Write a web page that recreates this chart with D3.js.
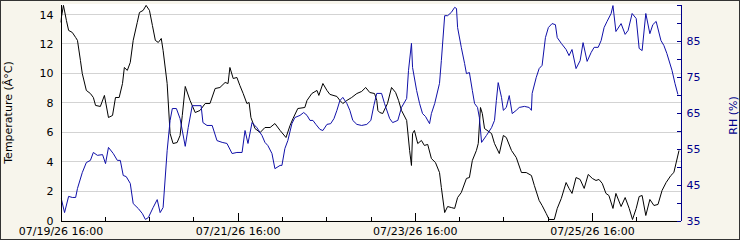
<!DOCTYPE html>
<html>
<head>
<meta charset="utf-8">
<script src="https://cdn.jsdelivr.net/npm/d3@7"></script>
<style>
  html, body { margin: 0; padding: 0; background: #fff; }
  svg { display: block; font-family: "DejaVu Sans", Verdana, sans-serif; }
</style>
</head>
<body>
<div id="chart"></div>
<script>
// Series data: hours since start, then the value read at that time
const startTime = '07/19/26 16:00';
const spanHours = 168;

const tempHours = [0, 0.8, 1.6, 2.2, 3.2, 4.1, 4.6, 5.4, 5.9, 7.0, 8.1, 8.9, 9.5, 10.8, 11.9, 13.0, 14.1, 14.9, 15.9, 16.8,
  17.3, 18.1, 18.9, 19.7, 20.8, 21.4, 22.4, 23.2, 24.1, 24.9, 25.7, 26.5, 27.3, 27.8, 28.9, 29.7, 30.5, 31.6, 32.4, 33.0,
  33.8, 35.1, 36.5, 37.8, 39.2, 40.5, 41.9, 43.2, 44.6, 45.4, 45.9, 46.8, 47.8, 48.6, 49.5, 50.5, 51.1, 51.6, 52.7, 54.1,
  55.4, 56.8, 58.1, 59.5, 61.1, 62.2, 63.0, 64.3, 66.2, 66.8, 68.1, 69.5, 70.0, 71.1, 72.2, 73.0, 74.9, 75.7, 76.5, 77.6,
  78.9, 80.3, 81.6, 82.7, 83.8, 85.1, 85.7, 86.0, 86.5, 87.3, 88.6, 89.7, 90.8, 91.6, 92.4, 93.8, 94.6, 95.1, 95.4, 95.9,
  96.8, 97.8, 98.6, 99.5, 100.5, 101.6, 102.7, 103.2, 104.1, 104.9, 105.9, 106.8, 107.6, 108.6, 110.0, 110.8, 111.6, 112.7, 113.2, 113.8,
  114.3, 114.9, 116.8, 117.6, 118.9, 120.0, 120.8, 122.2, 123.5, 124.9, 126.2, 127.6, 128.4, 129.7, 130.5, 131.6, 132.4, 133.8, 134.6, 135.7,
  137.0, 137.8, 138.6, 139.7, 140.8, 141.9, 143.0, 144.1, 145.1, 145.9, 146.8, 147.8, 148.6, 149.7, 150.5, 151.9, 153.0, 154.1, 155.0, 156.0,
  156.8, 157.6, 158.6, 159.7, 160.8, 161.9, 163.0, 164.1, 165.4, 166.2, 167.6];
const tempValues = [13.46, 14.62, 13.6, 12.92, 12.78, 12.44, 12.24, 10.88, 9.99, 8.84, 8.63, 8.36, 7.82, 7.75, 8.5, 7.0, 7.14, 8.36, 8.36, 9.31,
  10.4, 10.2, 10.74, 12.24, 13.46, 14.14, 14.28, 14.62, 14.28, 13.26, 12.24, 12.1, 12.37, 11.56, 9.31, 5.91, 5.23, 5.3, 5.78, 7.14,
  9.11, 8.16, 7.34, 7.48, 7.95, 7.95, 8.97, 9.04, 9.38, 9.31, 10.4, 9.65, 9.72, 9.18, 8.63, 7.95, 8.02, 7.0, 6.25, 5.98,
  6.32, 6.32, 6.59, 6.12, 5.64, 6.46, 6.93, 7.61, 7.68, 8.16, 8.63, 8.84, 8.5, 9.31, 8.84, 8.57, 8.43, 8.16, 7.95, 8.16,
  8.36, 8.63, 8.77, 9.04, 8.7, 8.63, 8.16, 7.48, 7.34, 7.27, 7.95, 9.04, 8.7, 8.16, 7.48, 6.8, 4.76, 3.74, 5.91, 6.12,
  5.23, 5.44, 5.1, 5.17, 4.21, 3.94, 3.26, 2.24, 0.54, 0.95, 0.88, 0.82, 1.56, 1.9, 2.86, 2.92, 4.08, 4.76, 5.23, 7.68,
  7.27, 6.25, 5.91, 5.23, 4.55, 5.78, 5.64, 4.76, 4.28, 3.26, 3.26, 3.06, 2.38, 1.36, 1.02, 0.48, 0.07, 0.07, 0.82, 1.5,
  2.58, 2.18, 1.84, 2.92, 2.79, 2.18, 3.13, 2.86, 2.72, 2.79, 2.52, 1.84, 1.7, 0.82, 1.84, 0.95, 1.56, 0.82, 0.07, 0.82,
  1.63, 1.7, 0.34, 1.43, 1.02, 1.09, 2.04, 2.58, 3.06, 3.26, 4.76];

const rhHours = [0.2, 1.1, 2.2, 3.2, 4.1, 4.6, 5.9, 7.0, 8.1, 8.9, 10.0, 11.4, 12.2, 13.0, 14.3, 15.4, 16.2, 17.0, 17.8, 18.9,
  19.7, 21.1, 22.2, 23.0, 23.8, 25.1, 26.2, 27.0, 27.8, 28.9, 29.7, 30.3, 31.4, 32.4, 33.8, 34.6, 35.7, 38.1, 38.6, 39.7,
  41.1, 42.4, 43.8, 45.1, 46.5, 47.8, 49.2, 50.0, 50.8, 51.9, 53.2, 54.6, 55.4, 56.2, 57.3, 58.1, 59.5, 60.0, 60.8, 61.6,
  62.7, 63.5, 64.9, 65.9, 66.8, 67.6, 68.4, 69.2, 70.3, 71.1, 72.2, 73.2, 74.1, 74.9, 75.7, 76.5, 77.6, 78.4, 79.2, 80.3,
  81.6, 83.0, 84.1, 84.9, 85.7, 87.0, 87.8, 89.2, 90.0, 91.4, 92.4, 93.8, 94.3, 95.1, 95.4, 96.5, 97.3, 98.1, 98.9, 100.0,
  100.5, 101.4, 102.7, 103.2, 104.1, 104.9, 105.9, 106.8, 107.3, 107.6, 108.6, 109.5, 110.0, 110.8, 111.6, 112.2, 113.0, 113.5, 114.1, 115.4,
  116.8, 117.6, 118.1, 118.6, 119.5, 120.0, 120.8, 121.6, 122.4, 123.5, 124.3, 125.7, 127.0, 127.6, 127.8, 128.9, 129.7, 130.5, 131.4, 132.2,
  133.2, 134.1, 134.6, 135.7, 137.0, 137.8, 138.6, 139.7, 140.8, 141.6, 142.7, 143.8, 144.6, 145.7, 146.5, 147.3, 148.1, 149.2, 149.7, 150.5,
  151.9, 153.0, 153.8, 154.9, 156.0, 156.8, 157.6, 158.6, 159.7, 160.5, 161.4, 162.7, 163.5, 164.3, 165.7, 166.5, 167.3];
const rhValues = [41.1, 37.2, 41.7, 41.4, 41.4, 43.9, 48.3, 51.1, 51.7, 53.9, 53.1, 53.3, 50.8, 55.3, 53.6, 51.7, 51.7, 47.5, 47.2, 45.3,
  39.7, 38.3, 36.9, 35.3, 35.8, 38.6, 40.8, 37.2, 38.6, 54.4, 62.8, 66.1, 66.1, 63.3, 55.6, 60.8, 66.9, 66.9, 62.2, 61.4,
  61.4, 57.2, 56.7, 56.4, 53.6, 53.9, 53.9, 60.0, 56.4, 62.2, 60.8, 58.6, 56.7, 55.8, 53.6, 49.4, 50.3, 50.3, 55.0, 57.2,
  61.9, 63.6, 64.2, 65.0, 64.2, 62.8, 62.8, 61.7, 60.3, 60.0, 61.7, 61.9, 63.3, 65.6, 68.3, 69.2, 67.5, 65.6, 62.8, 61.7,
  61.4, 61.7, 62.8, 66.9, 70.3, 70.3, 67.5, 63.3, 62.2, 62.8, 66.4, 68.9, 76.7, 84.2, 77.5, 71.1, 67.5, 64.7, 63.9, 61.9,
  64.7, 67.5, 73.1, 79.4, 91.9, 91.9, 92.8, 94.2, 93.9, 88.6, 83.1, 78.6, 75.8, 76.1, 71.1, 67.5, 66.4, 63.6, 56.7, 58.6,
  60.8, 62.8, 68.3, 73.3, 69.2, 65.6, 66.4, 69.7, 64.7, 65.6, 66.4, 66.7, 66.4, 65.6, 70.3, 74.7, 77.2, 78.1, 85.8, 88.6,
  89.7, 89.4, 85.8, 84.2, 82.5, 80.8, 82.5, 77.2, 79.4, 84.4, 79.2, 81.7, 83.1, 83.1, 85.0, 88.6, 90.3, 92.5, 94.7, 87.5,
  89.7, 86.7, 87.8, 92.5, 91.1, 82.8, 82.2, 92.5, 86.9, 89.4, 90.3, 85.0, 83.6, 81.4, 76.7, 73.1, 70.0];

// Axis ticks and labels
const xLabels = ['07/19/26 16:00', '07/21/26 16:00', '07/23/26 16:00', '07/25/26 16:00'];
const xMinorStep = 12;
const tempTicks = [0, 2, 4, 6, 8, 10, 12, 14];
const tempDomain = [0, 14.68];
const rhTicks = [35, 40, 45, 50, 55, 60, 65, 70, 75, 80, 85, 90, 95];
const rhLabels = [35, 45, 55, 65, 75, 85];
const rhDomain = [35, 95];

const width = 740, height = 240;
const plotL = 60.5, plotR = 680.5, plotT = 4.5, plotB = 220.5;
const fontSize = 11;
const navy = '#00008b';
const blueLine = '#1010a8';

const parse = d3.timeParse('%m/%d/%y %H:%M');
const fmt = d3.timeFormat('%m/%d/%y %H:%M');
const t0 = parse(startTime);
const t1 = d3.timeHour.offset(t0, spanHours);

const x = d3.scaleTime().domain([t0, t1]).range([plotL, plotR]);
const yT = d3.scaleLinear().domain(tempDomain).range([plotB, plotT]);
const yR = d3.scaleLinear().domain(rhDomain).range([plotB, plotT]);

const tempData = tempHours.map((h, i) => ({ t: d3.timeMinute.offset(t0, Math.round(h * 60)), v: tempValues[i] }));
const rhData = rhHours.map((h, i) => ({ t: d3.timeMinute.offset(t0, Math.round(h * 60)), v: rhValues[i] }));

const svg = d3.select('#chart').append('svg')
  .attr('width', width).attr('height', height);

// page background and frame
svg.append('rect').attr('x', 0.5).attr('y', 0.5).attr('width', width - 1).attr('height', height - 1)
  .attr('fill', '#f7f5ec').attr('stroke', '#333');

svg.append('rect')
  .attr('x', plotL).attr('y', plotT - 0.5)
  .attr('width', plotR - plotL).attr('height', plotB - plotT + 0.5)
  .attr('fill', '#fff');

svg.append('defs').append('clipPath').attr('id', 'clip')
  .append('rect').attr('x', plotL).attr('y', plotT - 1).attr('width', plotR - plotL).attr('height', plotB - plotT + 1.5);

// horizontal grid at temperature ticks
svg.append('g').attr('class', 'grid')
  .selectAll('line')
  .data(tempTicks.filter(d => d > 0))
  .join('line')
  .attr('x1', plotL).attr('x2', plotR)
  .attr('y1', d => Math.round(yT(d) - 0.5) + 0.5)
  .attr('y2', d => Math.round(yT(d) - 0.5) + 0.5)
  .attr('stroke', '#d3d3d3')
  .attr('shape-rendering', 'crispEdges');

// series
const line = d3.line().x(d => x(d.t));
const lines = svg.append('g').attr('clip-path', 'url(#clip)');
lines.append('path')
  .datum(tempData)
  .attr('fill', 'none')
  .attr('stroke', '#000')
  .attr('stroke-width', 1)
  .attr('d', line.y(d => yT(d.v)));
lines.append('path')
  .datum(rhData)
  .attr('fill', 'none')
  .attr('stroke', blueLine)
  .attr('stroke-width', 1)
  .attr('d', line.y(d => yR(d.v)));

function styleAxis(g, color) {
  g.attr('font-family', '"DejaVu Sans", Verdana, sans-serif').attr('font-size', fontSize);
  g.selectAll('path, line').attr('stroke', color).attr('shape-rendering', 'crispEdges');
  g.selectAll('text').attr('fill', color);
}

// x axis: minor ticks every 12 h, tall labelled ticks every 48 h
const minorTicks = d3.range(0, spanHours + 1, xMinorStep).map(h => d3.timeHour.offset(t0, h));
svg.append('g')
  .attr('transform', `translate(0,${plotB})`)
  .call(d3.axisBottom(x).tickValues(minorTicks).tickSize(-4).tickSizeOuter(0).tickFormat(''))
  .call(g => styleAxis(g, '#000'));
svg.append('g')
  .attr('transform', `translate(0,${plotB})`)
  .call(d3.axisBottom(x).tickValues(xLabels.map(parse)).tickSize(-8).tickSizeOuter(0).tickPadding(7).tickFormat(fmt))
  .call(g => styleAxis(g, '#000'))
  .call(g => g.select('.domain').remove());

// left temperature axis
svg.append('g')
  .attr('transform', `translate(${plotL},0)`)
  .call(d3.axisLeft(yT).tickValues(tempTicks).tickSize(0).tickSizeOuter(0).tickPadding(7))
  .call(g => styleAxis(g, '#000'));

// right RH axis
svg.append('g')
  .attr('transform', `translate(${plotR},0)`)
  .call(d3.axisRight(yR).tickValues(rhTicks).tickSize(-4).tickSizeOuter(0).tickPadding(6)
    .tickFormat(d => rhLabels.includes(d) ? d : ''))
  .call(g => styleAxis(g, navy));

// axis titles
svg.append('text')
  .attr('transform', `translate(12,${(plotT + plotB) / 2}) rotate(-90)`)
  .attr('text-anchor', 'middle')
  .attr('font-size', fontSize)
  .attr('fill', '#000')
  .text('Temperature (Â°C)');
svg.append('text')
  .attr('transform', `translate(737,${(plotT + plotB) / 2 + 3}) rotate(-90)`)
  .attr('text-anchor', 'middle')
  .attr('font-size', fontSize)
  .attr('fill', navy)
  .text('RH (%)');
</script>
</body>
</html>
